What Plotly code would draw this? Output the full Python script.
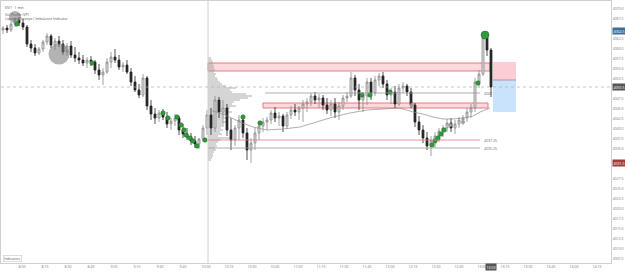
import plotly.graph_objects as go

# ---------------- data ----------------
opens = [4064.75, 4065.25, 4064.75, 4066.25, 4067.25, 4066.5, 4065.5, 4061.25, 4060.25, 4059.0,
         4060.0, 4061.75, 4063.25, 4061.0, 4062.0, 4061.25, 4059.25, 4060.75, 4058.5, 4057.75,
         4057.25, 4056.5, 4057.25, 4056.75, 4054.75, 4053.5, 4054.25, 4056.75, 4058.0, 4057.25,
         4055.5, 4056.0, 4054.25, 4051.75, 4049.75, 4048.5, 4052.75, 4045.75, 4043.75, 4042.75,
         4044.0, 4043.0, 4041.25, 4042.0, 4042.75, 4039.75, 4038.75, 4038.0, 4037.0, 4036.25,
         4037.5, 4040.25, 4043.5, 4040.25, 4047.25, 4044.25, 4045.25, 4039.75, 4037.25, 4040.25,
         4042.25, 4039.0, 4034.75, 4036.5, 4039.0, 4040.75, 4041.75, 4042.25, 4044.0, 4042.75,
         4043.25, 4040.75, 4043.5, 4044.75, 4044.25, 4045.25, 4046.25, 4046.75, 4048.25, 4047.25,
         4047.75, 4046.0, 4044.75, 4046.25, 4044.25, 4045.75, 4047.75, 4048.25, 4052.75, 4049.75,
         4047.25, 4048.25, 4051.75, 4049.0, 4052.25, 4053.25, 4051.25, 4048.5, 4049.25, 4046.25,
         4050.25, 4050.75, 4049.25, 4046.0, 4041.75, 4039.75, 4037.75, 4035.75, 4037.25, 4038.25,
         4039.5, 4040.25, 4041.5, 4040.25, 4041.25, 4042.25, 4042.75, 4044.25, 4045.25, 4051.75,
         4053.75, 4062.75, 4059.75]
highs = [4065.75, 4066.0, 4066.75, 4067.75, 4068.0, 4067.5, 4066.0, 4062.25, 4061.25, 4060.5,
         4062.25, 4064.0, 4063.75, 4062.75, 4063.25, 4062.25, 4061.5, 4062.0, 4060.5, 4059.25,
         4058.5, 4058.0, 4058.25, 4057.25, 4056.25, 4055.25, 4057.75, 4059.25, 4060.0, 4058.5,
         4056.75, 4057.25, 4055.25, 4053.25, 4051.25, 4053.75, 4053.25, 4047.25, 4045.25, 4044.75,
         4045.0, 4044.25, 4042.75, 4043.75, 4043.25, 4041.25, 4040.25, 4039.0, 4038.25, 4037.75,
         4041.0, 4044.75, 4045.25, 4048.25, 4048.0, 4047.25, 4046.25, 4042.75, 4041.0, 4043.5,
         4043.25, 4040.25, 4037.75, 4040.25, 4041.75, 4042.75, 4043.0, 4044.75, 4045.5, 4044.25,
         4043.75, 4044.25, 4045.75, 4046.25, 4045.75, 4047.25, 4047.75, 4049.0, 4049.25, 4048.75,
         4048.5, 4047.75, 4047.25, 4047.75, 4046.75, 4048.5, 4049.25, 4054.25, 4053.5, 4051.25,
         4049.25, 4052.75, 4052.75, 4053.25, 4054.0, 4054.25, 4052.25, 4050.25, 4050.75, 4051.25,
         4051.75, 4051.25, 4050.25, 4046.5, 4043.25, 4041.0, 4039.25, 4038.25, 4039.25, 4040.25,
         4041.0, 4042.5, 4042.75, 4042.25, 4043.0, 4043.5, 4045.25, 4046.25, 4052.75, 4054.75,
         4064.25, 4063.75, 4060.25]
lows = [4063.75, 4064.0, 4064.25, 4065.5, 4065.75, 4064.75, 4060.5, 4059.25, 4058.25, 4058.5,
        4059.25, 4061.0, 4060.25, 4059.75, 4060.5, 4058.5, 4058.25, 4057.75, 4056.75, 4056.25,
        4055.75, 4055.25, 4055.75, 4053.75, 4052.25, 4051.0, 4053.75, 4055.25, 4056.5, 4054.75,
        4054.25, 4053.75, 4050.75, 4049.25, 4047.75, 4048.0, 4044.75, 4042.25, 4041.25, 4041.75,
        4042.25, 4040.25, 4039.75, 4040.75, 4038.5, 4037.75, 4037.25, 4036.0, 4035.25, 4035.0,
        4036.75, 4038.5, 4038.5, 4039.25, 4042.75, 4041.0, 4038.25, 4034.75, 4035.75, 4037.25,
        4037.75, 4032.25, 4031.5, 4034.75, 4037.25, 4039.25, 4039.75, 4041.25, 4041.75, 4040.75,
        4039.25, 4040.0, 4042.5, 4043.25, 4042.25, 4041.75, 4044.25, 4045.75, 4046.25, 4045.25,
        4044.75, 4043.75, 4043.25, 4042.75, 4042.25, 4044.75, 4046.75, 4047.75, 4048.25, 4044.75,
        4044.25, 4046.0, 4047.25, 4048.25, 4050.75, 4050.25, 4047.25, 4046.25, 4045.25, 4045.75,
        4049.0, 4048.25, 4045.25, 4040.5, 4038.5, 4036.5, 4034.75, 4033.25, 4035.25, 4036.75,
        4038.0, 4039.25, 4039.25, 4038.75, 4040.25, 4041.0, 4041.75, 4042.75, 4044.25, 4050.25,
        4053.25, 4058.25, 4048.0]
closes = [4065.25, 4064.75, 4066.25, 4067.25, 4066.5, 4065.5, 4061.25, 4060.25, 4059.0, 4060.0,
          4061.75, 4063.25, 4061.0, 4062.0, 4061.25, 4059.25, 4060.75, 4058.5, 4057.75, 4057.25,
          4056.5, 4057.25, 4056.75, 4054.75, 4053.5, 4054.25, 4056.75, 4058.0, 4057.25, 4055.5,
          4056.0, 4054.25, 4051.75, 4049.75, 4048.5, 4052.75, 4045.75, 4043.75, 4042.75, 4044.0,
          4043.0, 4041.25, 4042.0, 4042.75, 4039.75, 4038.75, 4038.0, 4037.0, 4036.25, 4037.5,
          4040.25, 4043.5, 4040.25, 4047.25, 4044.25, 4045.25, 4039.75, 4037.25, 4040.25, 4042.25,
          4039.0, 4034.75, 4036.5, 4039.0, 4040.75, 4041.75, 4042.25, 4044.0, 4042.75, 4043.25,
          4040.75, 4043.5, 4044.75, 4044.25, 4045.25, 4046.25, 4046.75, 4048.25, 4047.25, 4047.75,
          4046.0, 4044.75, 4046.25, 4044.25, 4045.75, 4047.75, 4048.25, 4052.75, 4049.75, 4047.25,
          4048.25, 4051.75, 4049.0, 4052.25, 4053.25, 4051.25, 4048.5, 4049.25, 4046.25, 4050.25,
          4050.75, 4049.25, 4046.0, 4041.75, 4039.75, 4037.75, 4035.75, 4037.25, 4038.25, 4039.5,
          4040.25, 4041.5, 4040.25, 4041.25, 4042.25, 4042.75, 4044.25, 4045.25, 4051.75, 4053.75,
          4062.75, 4059.75, 4050.5]

# signal dots (bar index, price)
green_idx = [3.5, 22.25, 40, 41.25, 43.5, 44.5, 45.25, 45.75, 46.75, 47.5, 48.5, 50.5,
             60, 64.25, 89.75, 91.75, 96.75, 107.25, 108, 108.75, 109.5, 110.25, 118.75]
green_px = [4066.25, 4056.5, 4044.0, 4042.75, 4043.0, 4041.0, 4039.75, 4038.5, 4037.75, 4037.0,
            4035.75, 4037.25, 4043.0, 4041.5, 4048.5, 4048.5, 4049.25, 4036.0, 4037.0, 4037.75,
            4038.75, 4039.75, 4051.5]
big_green_idx = [120.5]
big_green_px = [4063.5]
gray_dot_idx = [102.25, 111.75, 115]
gray_dot_px = [4046.0, 4041.0, 4041.75]
gray_circle_idx = [3, 14]
gray_circle_px = [4068.0, 4058.75]
gray_circle_size = [12, 21]

# session VWAP-like line
vw_idx = [51.75, 55.5, 59.25, 62.5, 66, 70, 74.25, 78.5, 82.5, 86.75, 91, 95, 99.25,
          102.5, 105, 107.5, 110, 112.5, 115, 117.5, 119.25, 121.75]
vw_px = [4044.75, 4043.5, 4041.75, 4040.5, 4039.75, 4040.0, 4040.5, 4041.75, 4043.0, 4044.0,
         4044.75, 4045.0, 4045.25, 4044.25, 4043.75, 4043.0, 4042.5, 4042.5, 4042.75, 4043.25,
         4044.25, 4045.25]

# volume profile of the session (price levels, volume)
vp_prices = [4057.75 - 0.5 * k for k in range(52)]
vp_vol = [3, 4, 5, 5, 6,
          6, 7, 6, 8, 7, 9,
          10, 12, 14, 18,
          28, 22, 24,
          38, 44, 40, 32,
          26, 24, 28, 22, 20, 24, 18,
          16, 18, 15, 20, 14, 16, 13, 15,
          12, 14, 10, 22, 12, 10,
          8, 9, 7, 8, 6, 5, 5, 4, 3]

session_start = 51.25
zones = [  # start idx, end idx, low, high
    (51.25, 121.75, 4054.5, 4056.5),
    (65.0, 121.25, 4045.25, 4046.5),
]
levels = [  # start idx, end idx, price, color, label
    (51.25, 119.25, 4037.25, "#e07b86", "4037.25"),
    (51.25, 119.25, 4035.25, "#9a9a9a", "4035.25"),
    (65.5, 119.25, 4049.0, "#9a9a9a", "4049"),
]
position = dict(x0=122.5, x1=128.25, stop=4056.75, entry=4052.25, target=4044.25)

y_ticks = [4070.0 - 2.5 * k for k in range(26)]
time_labels = ["7:45", "8:00", "8:15", "8:30", "8:45", "9:00", "9:15", "9:30", "9:45", "10:00",
               "10:15", "10:30", "10:45", "11:00", "11:15", "11:30", "11:45", "12:00", "12:15",
               "12:30", "12:45", "13:00", "13:15", "13:30", "13:45", "14:00", "14:15"]
time_minutes = [7 * 60 + 45 + 15 * k for k in range(len(time_labels))]
current_time_label = "13:03"
label_hi = 4064.5
label_lo = 4031.5

# ---------------- layout helpers ----------------
BAR_PER_MIN = 23 / 15 / 4          # bar index units per minute
t_ref_min, t_ref_idx = 13 * 60, 119.75
tick_vals = [t_ref_idx + (m - t_ref_min) * BAR_PER_MIN for m in time_minutes]
idx = list(range(len(opens)))
last = closes[-1]
boxed = [label_hi, last, label_lo]
# ticks hidden behind the coloured price boxes are not drawn
y_ticks_shown = [v for v in y_ticks if all(abs(v - b) > 1.6 for b in boxed)]

fig = go.Figure()

# volume profile
fig.add_trace(go.Bar(orientation="h", y=vp_prices, x=[v * 0.25 for v in vp_vol], base=session_start,
                     width=0.3, marker=dict(color="rgba(150,150,150,0.4)", line_width=0),
                     hoverinfo="skip", showlegend=False))

# zones
for x0, x1, lo, hi in zones:
    fig.add_shape(type="rect", x0=x0, x1=x1, y0=lo, y1=hi, xref="x", yref="y",
                  fillcolor="rgba(244,160,170,0.4)", line=dict(color="#e77a86", width=1), layer="below")
# position tool
fig.add_shape(type="rect", x0=position["x0"], x1=position["x1"], y0=position["entry"], y1=position["stop"],
              fillcolor="rgba(248,190,196,0.75)", line_width=0, layer="below")
fig.add_shape(type="rect", x0=position["x0"], x1=position["x1"], y0=position["target"], y1=position["entry"],
              fillcolor="rgba(190,222,250,0.85)", line_width=0, layer="below")
fig.add_shape(type="line", x0=position["x0"], x1=position["x1"], y0=position["entry"], y1=position["entry"],
              line=dict(color="#b08090", width=0.8))

for x0, x1, p, col, lab in levels:
    fig.add_shape(type="line", x0=x0, x1=x1, y0=p, y1=p, line=dict(color=col, width=0.8))
    fig.add_annotation(x=x1 + 0.6, y=p, text=lab, showarrow=False, xanchor="left",
                       font=dict(size=3.5, color="#666"))

# session separator + last price line
fig.add_shape(type="line", x0=session_start, x1=session_start, y0=0, y1=1, xref="x", yref="paper",
              line=dict(color="#d0d0d0", width=1))
fig.add_shape(type="line", x0=0, x1=1, y0=last, y1=last, xref="paper", yref="y",
              line=dict(color="#b0b0b0", width=0.7, dash="dot"))

# vwap
fig.add_trace(go.Scatter(x=vw_idx, y=vw_px, mode="lines", line=dict(color="#8c8c8c", width=0.7),
                         hoverinfo="skip", showlegend=False))

# candles
fig.add_trace(go.Candlestick(x=idx, open=opens, high=highs, low=lows, close=closes,
                             increasing=dict(line=dict(color="#8a8a8a", width=0.8), fillcolor="#dcdcdc"),
                             decreasing=dict(line=dict(color="#262626", width=0.8), fillcolor="#262626"),
                             whiskerwidth=0, showlegend=False))

# circles / signals
fig.add_trace(go.Scatter(x=gray_circle_idx, y=gray_circle_px, mode="markers",
                         marker=dict(size=gray_circle_size, color="rgba(120,120,120,0.8)", line_width=0),
                         hoverinfo="skip", showlegend=False))
fig.add_trace(go.Scatter(x=gray_dot_idx, y=gray_dot_px, mode="markers",
                         marker=dict(size=4, color="#a0a0a0", line_width=0), showlegend=False))
fig.add_trace(go.Scatter(x=green_idx, y=green_px, mode="markers",
                         marker=dict(size=4.5, color="#2f9a3c", line=dict(color="#1b6a25", width=0.5)),
                         showlegend=False))
fig.add_trace(go.Scatter(x=big_green_idx, y=big_green_px, mode="markers",
                         marker=dict(size=8, color="#2f9a3c", line=dict(color="#1b6a25", width=0.5)),
                         showlegend=False))

# price labels on right axis
for val, bg in zip(boxed, ["#3d6f99", "#555555", "#a83a3a"]):
    fig.add_annotation(x=1, xref="paper", y=val, yref="y", text=f"{val:.1f}", showarrow=False,
                       xanchor="left", xshift=1, bgcolor=bg, font=dict(size=3.5, color="white"),
                       borderpad=0.5)
fig.add_annotation(x=idx[-1] + 0.1, y=0, yref="paper", yanchor="top", text=current_time_label,
                   showarrow=False, bgcolor="#555555", font=dict(size=3.5, color="white"), borderpad=0.5)

# header texts
for yy, txt in [(0.993, "ES1! · 1 min"), (0.967, "Vol Profile (VP)"),
                (0.95, "Liquidity Sweeps / Imbalance Indicator")]:
    fig.add_annotation(x=0.004, xref="paper", y=yy, yref="paper", text=txt, showarrow=False,
                       xanchor="left", yanchor="top", font=dict(size=3.5, color="#555"))
fig.add_annotation(x=0.004, xref="paper", y=0.005, yref="paper", text="Indicators", showarrow=False,
                   xanchor="left", yanchor="bottom", font=dict(size=3.5, color="#555"),
                   bordercolor="#bbb", borderwidth=0.5, borderpad=0.5)

fig.update_layout(
    width=625, height=272, margin=dict(l=1, r=14, t=1, b=9),
    paper_bgcolor="white", plot_bgcolor="white",
    xaxis=dict(range=[-0.5, 152], showgrid=False, zeroline=False, rangeslider=dict(visible=False),
               tickvals=tick_vals, ticktext=time_labels, tickfont=dict(size=3.5, color="#777"),
               showline=True, linecolor="#d0d0d0", mirror=True, ticks="", ticklen=0),
    yaxis=dict(range=[4006.5, 4072.0], side="right", showgrid=False, zeroline=False,
               tickvals=y_ticks_shown, ticktext=[f"{v:.1f}" for v in y_ticks_shown],
               tickfont=dict(size=3.5, color="#777"), showline=True, linecolor="#d0d0d0",
               mirror=True, ticks="", ticklen=0),
    bargap=0, showlegend=False,
)

fig.write_html("out.html")
